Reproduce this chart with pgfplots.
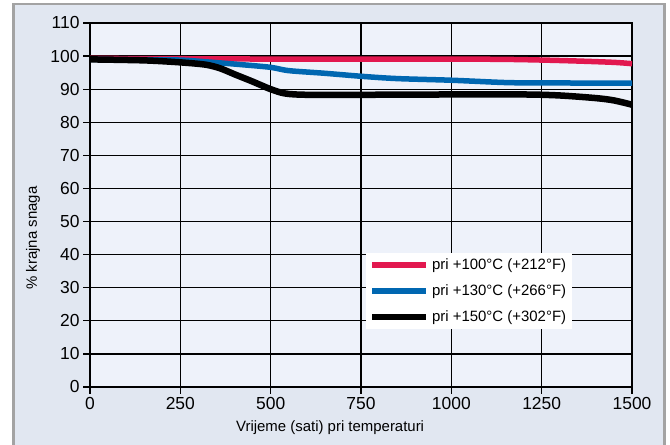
\documentclass[border=0pt]{standalone}
\usepackage{pgfplots}
\pgfplotsset{compat=1.18}
\usepackage{fontspec}
\setmainfont{Liberation Sans}
\definecolor{outerbg}{HTML}{E1E7F1}
\definecolor{innerbg}{HTML}{EEF2FA}
\definecolor{framegray}{HTML}{A3A3A3}
\definecolor{cred}{HTML}{E2184F}
\definecolor{cblue}{HTML}{0067B1}
\begin{document}
\begin{tikzpicture}[x=1bp,y=1bp]
\useasboundingbox (0,0) rectangle (670,445);
\begin{scope}
\clip (0,0) rectangle (670,445);
\fill[white] (0,0) rectangle (670,445);
\filldraw[fill=outerbg, draw=framegray, line width=2.5bp] (13.5,-10) rectangle (664.5,441);
\end{scope}
\begin{axis}[
  at={(90bp,58bp)}, anchor=south west,
  scale only axis, width=542bp, height=364bp,
  xmin=0, xmax=1500, ymin=0, ymax=110,
  xtick={0,250,500,750,1000,1250,1500}, ytick={0,10,...,110},
  xtick pos=left, ytick pos=left,
  tick align=outside, major tick length=7bp,
  tick style={black, line width=1.3bp},
  grid=major, grid style={black, line width=1.3bp},
  axis line style={black, line width=1.3bp},
  axis background/.style={fill=innerbg},
  /pgf/number format/assume math mode=true,
  /pgf/number format/set thousands separator={},
  ticklabel style={font=\fontsize{17.5}{19}\selectfont},
  xlabel={Vrijeme (sati) pri temperaturi},
  ylabel={\% krajna snaga},
  label style={font=\fontsize{15}{16}\selectfont},
  xlabel style={at={(axis description cs:0.443,-0.113)}, anchor=center},
  ylabel style={at={(axis description cs:-0.105,0.409)}, anchor=center},
  legend style={at={(0.509,0.370)}, anchor=north west, fill=white, draw=none,
    font=\fontsize{15}{16}\selectfont, inner xsep=3bp, inner ysep=4bp,
    row sep=8.5bp, nodes={inner sep=2.5bp}},
  legend cell align=left,
  legend image code/.code={\draw[#1] (0bp,0bp) -- (54bp,0bp);},
]
\addplot[cred, line width=5.5bp, smooth] coordinates {
(0,99.3) (250,99.2) (500,99.1) (750,99.1) (1000,99.1) (1150,99.0) (1250,98.8) (1350,98.5) (1450,98.1) (1500,97.7)};
\addlegendentry{pri +100°C (+212°F)}
\addplot[cblue, line width=5.5bp, smooth] coordinates {
(0,99) (150,98.9) (250,98.8) (330,98.2) (420,97.4) (500,96.6) (550,95.6) (650,94.8) (750,93.9) (850,93.2) (1000,92.7) (1150,92.0) (1250,91.9) (1500,91.8)};
\addlegendentry{pri +130°C (+266°F)}
\addplot[black, line width=6.5bp, smooth] coordinates {
(0,99) (150,98.7) (250,98.1) (320,97.4) (360,96.3) (400,94.5) (450,92.3) (500,90) (540,88.7) (600,88.3) (750,88.3) (1000,88.4) (1200,88.4) (1300,88.1) (1400,87.3) (1450,86.6) (1500,85.3)};
\addlegendentry{pri +150°C (+302°F)}
\end{axis}
\end{tikzpicture}
\end{document}
